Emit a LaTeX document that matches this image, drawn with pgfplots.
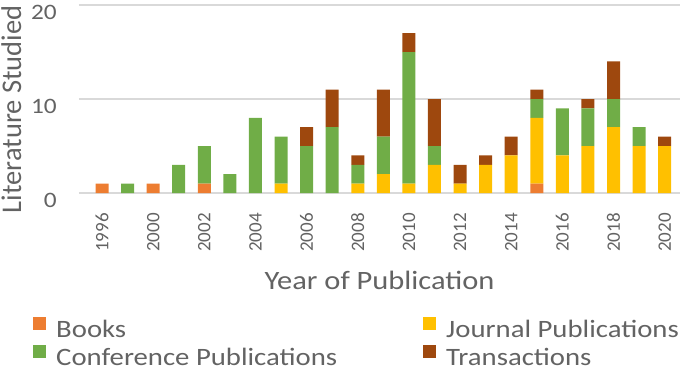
\documentclass[border=0pt]{standalone}
\usepackage{pgfplots}
\pgfplotsset{compat=1.18}
\usepackage{pgfplotstable}
\usepackage{fontspec}
\setmainfont{Carlito}
\newfontfamily\wide[FakeStretch=1.15]{Carlito}
\definecolor{txt}{HTML}{636363}
\definecolor{cBooks}{HTML}{ED7D31}
\definecolor{cJournal}{HTML}{FFC000}
\definecolor{cConf}{HTML}{70AD47}
\definecolor{cTrans}{HTML}{9E480E}
\definecolor{gridc}{HTML}{D9D9D9}
\pgfplotstableread{
x year books journal conf trans
0  1996 1 0 0 0
1  1998 0 0 1 0
2  2000 1 0 0 0
3  2001 0 0 3 0
4  2002 1 0 4 0
5  2003 0 0 2 0
6  2004 0 0 8 0
7  2005 0 1 5 0
8  2006 0 0 5 2
9  2007 0 0 7 4
10 2008 0 1 2 1
11 2009 0 2 4 5
12 2010 0 1 14 2
13 2011 0 3 2 5
14 2012 0 1 0 2
15 2013 0 3 0 1
16 2014 0 4 0 2
17 2015 1 7 2 1
18 2016 0 4 5 0
19 2017 0 5 4 1
20 2018 0 7 3 4
21 2019 0 5 2 0
22 2020 0 5 0 1
}\data
\begin{document}
\begin{tikzpicture}
\begin{axis}[
  anchor=south west, at={(0,0)},
  scale only axis,
  width=601pt, height=188pt,
  ybar stacked, bar width=13pt,
  xmin=-0.9, xmax=22.6,
  ymin=0, ymax=20,
  ytick={0,10,20},
  xtick={0,...,22},
  xticklabels={1996,,2000,,2002,,2004,,2006,,2008,,2010,,2012,,2014,,2016,,2018,,2020},
  axis line style={draw=none},
  major tick length=0pt,
  ymajorgrids, grid style={gridc, line width=1.3pt},
  tick label style={text=txt},
  /pgf/number format/assume math mode=true,
  yticklabel style={font=\wide\fontsize{22}{24}\selectfont, anchor=east, inner sep=0pt, xshift=-22pt, yshift=-7pt},
  xticklabel style={font=\fontsize{19}{20}\selectfont, rotate=90, anchor=east, inner sep=0pt, xshift=-20pt},
  xlabel={\wide Year of Publication},
  ylabel={Literature Studied},
  xlabel style={text=txt, font=\fontsize{26.5}{28}\selectfont, at={(axis description cs:0.5,-0.5106)}, anchor=base, inner sep=0pt},
  ylabel style={text=txt, font=\fontsize{28.5}{30}\selectfont, at={(axis description cs:-0.0965,0.445)}, anchor=base, inner sep=0pt, rotate=0},
  legend columns=2,
  legend cell align=left,
  legend style={draw=none, fill=none, inner sep=0pt, at={(axis description cs:-0.0765,-0.66)}, anchor=north west,
    font=\wide\fontsize{25}{28}\selectfont, text=txt,
    nodes={inner sep=0pt},
    /tikz/every odd column/.append style={column sep=10pt},
    /tikz/every even column/.append style={column sep=86pt},
    row sep=6pt},
  legend image code/.code={\fill[#1] (0pt,-0.5pt) rectangle (13pt,12.5pt);},
]
\addplot[fill=cBooks, draw=none] table[x=x, y=books] {\data};
\addplot[fill=cJournal, draw=none] table[x=x, y=journal] {\data};
\addplot[fill=cConf, draw=none] table[x=x, y=conf] {\data};
\addplot[fill=cTrans, draw=none] table[x=x, y=trans] {\data};
\legend{Books, Journal Publications, Conference Publications, Transactions}
\end{axis}
\pgfresetboundingbox
\path (-79pt,-180pt) rectangle (606pt,193pt);
\end{tikzpicture}
\end{document}
